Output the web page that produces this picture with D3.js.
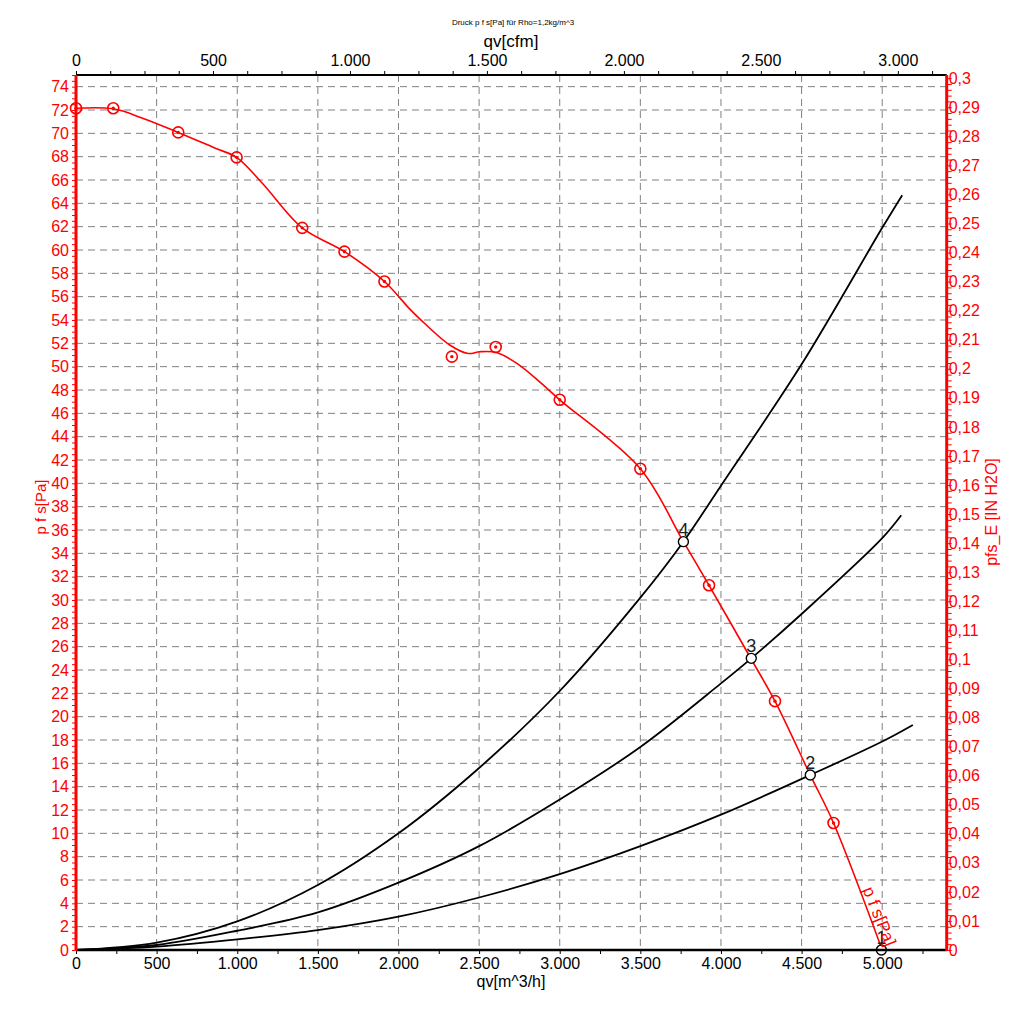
<!DOCTYPE html>
<html><head><meta charset="utf-8">
<script src="https://cdn.jsdelivr.net/npm/d3@7"></script>
<style>
html,body{margin:0;padding:0;background:#fff;}
svg{display:block;font-family:"Liberation Sans",Arial,sans-serif;}
</style></head>
<body>
<svg id="chart" width="1024" height="1014"></svg>
<script>
// ---------- data ----------
const fanLineQ = [0, 230, 413, 634, 868, 996, 1157, 1403, 1665, 1913, 2066, 2132, 2318, 2432, 2504, 2608, 2732, 2876, 3000, 3500, 3767, 3926, 4188, 4335, 4554, 4698, 5000];
const fanLineP = [72.15, 72.1, 71.3, 70.08, 68.7, 67.94, 65.7, 61.9, 59.86, 57.3, 55.0, 54.1, 51.86, 51.13, 51.28, 51.22, 50.3, 48.7, 47.16, 41.25, 35.0, 31.26, 24.92, 21.33, 14.99, 10.89, 0];
const fanPtsQ = [0, 231, 634, 996, 1403, 1665, 1913, 2331, 2603, 3000, 3500, 3926, 4335, 4698];
const fanPtsP = [72.15, 72.15, 70.08, 67.94, 61.9, 59.86, 57.3, 50.86, 51.69, 47.16, 41.25, 31.26, 21.33, 10.89];

const sys4Q = [0, 500, 1000, 1500, 2000, 2500, 3000, 3500, 3767, 4000, 4500, 5000, 5124];
const sys4P = [0, 0.63, 2.45, 5.57, 10.0, 15.6, 22.2, 30.2, 35.0, 39.8, 50.2, 61.9, 64.7];
const sys3Q = [0, 500, 1000, 1500, 2000, 2500, 3000, 3500, 4000, 4188, 4500, 5000, 5118];
const sys3P = [0, 0.43, 1.65, 3.22, 5.77, 8.9, 12.9, 17.4, 22.85, 25.0, 28.8, 35.3, 37.26];
const sys2Q = [0, 500, 1000, 1500, 2000, 2500, 3000, 3500, 4000, 4554, 5000, 5190];
const sys2P = [0, 0.29, 0.91, 1.71, 2.86, 4.5, 6.5, 8.9, 11.6, 15.0, 17.87, 19.29];

const opQ = [4995, 4554, 4188, 3767];
const opP = [0, 15, 25, 35];
const opLabels = ["1", "2", "3", "4"];

const bottomTicks = d3.range(0, 5401, 250);
const topTicks = d3.range(0, 3201, 125);
const leftTicks = d3.range(0, 75.01, 0.5);
const rightTicks = d3.range(0, 0.3001, 0.002);

const titleText = "Druck p f s[Pa] für Rho=1,2kg/m^3";
const xTitle = "qv[m^3/h]";
const xTopTitle = "qv[cfm]";
const yTitle = "p f s[Pa]";
const yRightTitle = "pfs_E [IN H2O]";
const curveLabel = "p f s[Pa]";

// ---------- setup ----------
const M3H_TO_CFM = 0.588578;
const PA_PER_INH2O = 249.089;
const L = 76, R = 946.7, T = 75, B = 950;
const red = "#ff0000";

const x = d3.scaleLinear([0, 5400], [L, R]);
const xTop = d3.scaleLinear([0, 5400 * M3H_TO_CFM], [L, R]);
const y = d3.scaleLinear([0, 75], [B, T]);
const yR = d3.scaleLinear([0, 75 / PA_PER_INH2O], [B, T]);

const de = d3.formatLocale({decimal: ",", thousands: ".", grouping: [3], currency: ["", "€"]});
const fInt = de.format(",d");
const fDec = de.format(".2~f");

const svg = d3.select("#chart");

// title
svg.append("text").attr("x", 513).attr("y", 25).attr("text-anchor", "middle")
  .attr("font-size", 8).attr("fill", "#000").text(titleText);

// grid
const grid = svg.append("g").attr("stroke", "#808080").attr("stroke-width", 1).attr("stroke-dasharray", "7,5");
grid.selectAll("line.v").data(d3.range(500, 5401, 500)).join("line").attr("class", "v")
  .attr("x1", d => x(d)).attr("x2", d => x(d)).attr("y1", T).attr("y2", B);
grid.selectAll("line.h").data(d3.range(2, 75, 2)).join("line").attr("class", "h")
  .attr("x1", L).attr("x2", R).attr("y1", d => y(d)).attr("y2", d => y(d));

// axes
const isMult = (v, m) => Math.abs(v / m - Math.round(v / m)) < 1e-6;

const gB = svg.append("g").attr("transform", `translate(0,${B})`)
  .call(d3.axisBottom(x).tickValues(bottomTicks).tickSize(4).tickPadding(4)
    .tickFormat(d => isMult(d, 500) ? fInt(d) : ""));
gB.select(".domain").remove();
gB.selectAll("text").attr("font-size", 16).attr("fill", "#000").attr("font-family", "Liberation Sans, Arial");
gB.selectAll("line").attr("stroke", "#000");

const gT = svg.append("g").attr("transform", `translate(0,${T})`)
  .call(d3.axisTop(xTop).tickValues(topTicks).tickSize(4).tickPadding(5)
    .tickFormat(d => isMult(d, 500) ? fInt(d) : ""));
gT.select(".domain").remove();
gT.selectAll("text").attr("font-size", 16).attr("fill", "#000").attr("font-family", "Liberation Sans, Arial");
gT.selectAll("line").attr("stroke", "#000");

const gL = svg.append("g").attr("transform", `translate(${L},0)`)
  .call(d3.axisLeft(y).tickValues(leftTicks).tickSize(4).tickPadding(3)
    .tickFormat(d => isMult(d, 2) ? fInt(d) : ""));
gL.select(".domain").remove();
gL.selectAll("text").attr("font-size", 16).attr("fill", red).attr("font-family", "Liberation Sans, Arial");
gL.selectAll("line").attr("stroke", red);

const gR = svg.append("g").attr("transform", `translate(${R},0)`)
  .call(d3.axisRight(yR).tickValues(rightTicks).tickSize(5).tickPadding(-3)
    .tickFormat(d => isMult(d, 0.01) ? fDec(d) : ""));
gR.select(".domain").remove();
gR.selectAll("text").attr("font-size", 16).attr("fill", red).attr("font-family", "Liberation Sans, Arial");
gR.selectAll("line").attr("stroke", red);

// axis titles
svg.append("text").attr("x", 511).attr("y", 987).attr("text-anchor", "middle")
  .attr("font-size", 16).text(xTitle);
svg.append("text").attr("x", 511).attr("y", 47).attr("text-anchor", "middle")
  .attr("font-size", 17).text(xTopTitle);
svg.append("text").attr("transform", "translate(46,507) rotate(-90)").attr("text-anchor", "middle")
  .attr("font-size", 15).attr("fill", red).text(yTitle);
svg.append("text").attr("transform", "translate(997,512) rotate(-90)").attr("text-anchor", "middle")
  .attr("font-size", 16).attr("fill", red).text(yRightTitle);

// curves
const line = d3.line().x(d => x(d[0])).y(d => y(d[1])).curve(d3.curveCatmullRom.alpha(0.5));
const zip = (a, b) => a.map((v, i) => [v, b[i]]);

[[sys4Q, sys4P], [sys3Q, sys3P], [sys2Q, sys2P]].forEach(([q, p]) => {
  svg.append("path").attr("d", line(zip(q, p))).attr("fill", "none")
    .attr("stroke", "#000").attr("stroke-width", 1.8);
});

svg.append("path").attr("d", line(zip(fanLineQ, fanLineP))).attr("fill", "none")
  .attr("stroke", red).attr("stroke-width", 1.6);

const pts = svg.append("g");
zip(fanPtsQ, fanPtsP).forEach(([q, p]) => {
  pts.append("circle").attr("cx", x(q)).attr("cy", y(p)).attr("r", 5.5)
    .attr("fill", "none").attr("stroke", red).attr("stroke-width", 1.6);
  pts.append("circle").attr("cx", x(q)).attr("cy", y(p)).attr("r", 1.7).attr("fill", red);
});

// operating points
opQ.forEach((q, i) => {
  svg.append("circle").attr("cx", x(q)).attr("cy", y(opP[i])).attr("r", 5)
    .attr("fill", "#fff").attr("stroke", "#000").attr("stroke-width", 1.4);
  svg.append("text").attr("x", x(q)).attr("y", y(opP[i]) - 6).attr("text-anchor", "middle")
    .attr("font-size", 18).attr("fill", "#222").text(opLabels[i]);
});

// curve label
svg.append("text").attr("transform", `translate(${x(4950)},${y(2.7)}) rotate(68)`)
  .attr("text-anchor", "middle").attr("font-size", 17).attr("fill", red).text(curveLabel);

// axis lines on top
svg.append("line").attr("x1", L).attr("x2", R).attr("y1", B).attr("y2", B).attr("stroke", "#000").attr("stroke-width", 2.5);
svg.append("line").attr("x1", L).attr("x2", R).attr("y1", T).attr("y2", T).attr("stroke", "#000").attr("stroke-width", 2);
svg.append("line").attr("x1", L).attr("x2", L).attr("y1", T).attr("y2", B + 1).attr("stroke", red).attr("stroke-width", 3);
svg.append("line").attr("x1", R).attr("x2", R).attr("y1", T).attr("y2", B + 1).attr("stroke", red).attr("stroke-width", 3);
</script>
</body></html>
